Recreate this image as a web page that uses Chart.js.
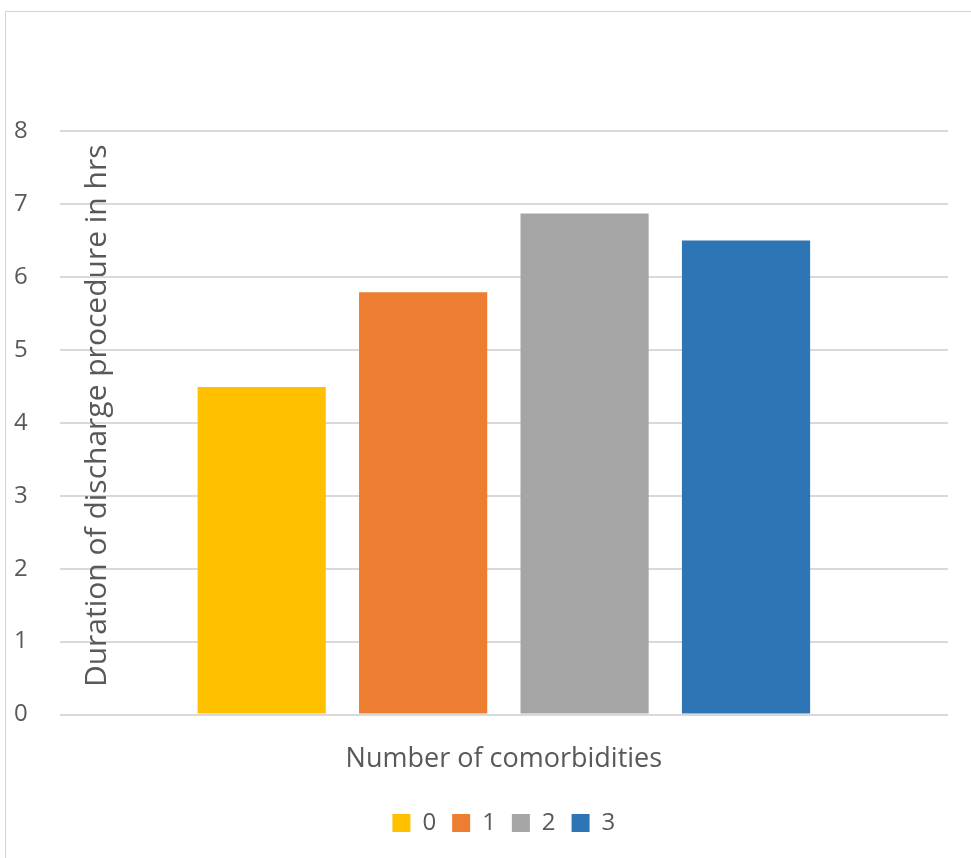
<!DOCTYPE html>
<html>
<head>
<meta charset="utf-8">
<script src="https://cdn.jsdelivr.net/npm/chart.js@4/dist/chart.umd.min.js"></script>
<style>
  html, body { margin: 0; padding: 0; background: #fff; overflow: hidden; }
  #frame { position: absolute; left: 5px; top: 11px; width: 1200px; height: 1200px;
           border-left: 1px solid #d4d4d4; border-top: 1px solid #d4d4d4; }
  #c { position: absolute; left: 0; top: 0; }
</style>
</head>
<body>
<div id="frame"></div>
<canvas id="c" width="971" height="858"></canvas>
<script>
// Mean duration of the discharge procedure, grouped by number of comorbidities
const categories = [''];
const seriesNames = ['0', '1', '2', '3'];
const durations = [4.49, 5.79, 6.87, 6.50];
const seriesColors = ['#FFC000', '#ED7D31', '#A5A5A5', '#2E75B6'];
const yMin = 0, yMax = 8, yStep = 1;
const yTitle = 'Duration of discharge procedure in hrs';
const xTitle = 'Number of comorbidities';

const textColor = '#595959';
const fontFamily = '"Open Sans", "Liberation Sans", sans-serif';

// Axis title drawn inside the plot area, next to the tick labels
const yTitlePlugin = {
  id: 'yTitleInside',
  afterDatasetsDraw(chart) {
    const { ctx, chartArea } = chart;
    ctx.save();
    ctx.translate(97, (chartArea.top + chartArea.bottom) / 2 - 7);
    ctx.rotate(-Math.PI / 2);
    ctx.fillStyle = textColor;
    ctx.font = '30px ' + fontFamily;
    ctx.textAlign = 'center';
    ctx.textBaseline = 'middle';
    ctx.fillText(yTitle, 0, 0);
    ctx.restore();
  }
};

new Chart(document.getElementById('c'), {
  type: 'bar',
  data: {
    labels: categories,
    datasets: seriesNames.map((name, i) => ({
      label: name,
      data: [durations[i]],
      backgroundColor: seriesColors[i],
      borderWidth: 0
    }))
  },
  options: {
    responsive: false,
    animation: false,
    categoryPercentage: 0.727,
    barPercentage: 0.794,
    layout: { padding: { left: 14, top: 131, right: 23, bottom: 13 } },
    plugins: {
      tooltip: { enabled: false },
      legend: {
        position: 'bottom',
        fullSize: false,
        labels: {
          boxWidth: 18, boxHeight: 18, padding: 16,
          color: textColor,
          font: { family: fontFamily, size: 24 }
        }
      }
    },
    scales: {
      x: {
        grid: { display: false },
        border: { display: false },
        ticks: { display: false },
        title: {
          display: true, text: xTitle, color: textColor,
          font: { family: fontFamily, size: 27 },
          padding: { top: 21, bottom: 19 }
        }
      },
      y: {
        min: yMin, max: yMax,
        ticks: { stepSize: yStep, color: textColor, padding: 16, crossAlign: 'far',
                 font: { family: fontFamily, size: 24 } },
        grid: { color: '#d9d9d9', lineWidth: 2, drawTicks: false },
        border: { display: false }
      }
    }
  },
  plugins: [yTitlePlugin]
});
</script>
</body>
</html>
